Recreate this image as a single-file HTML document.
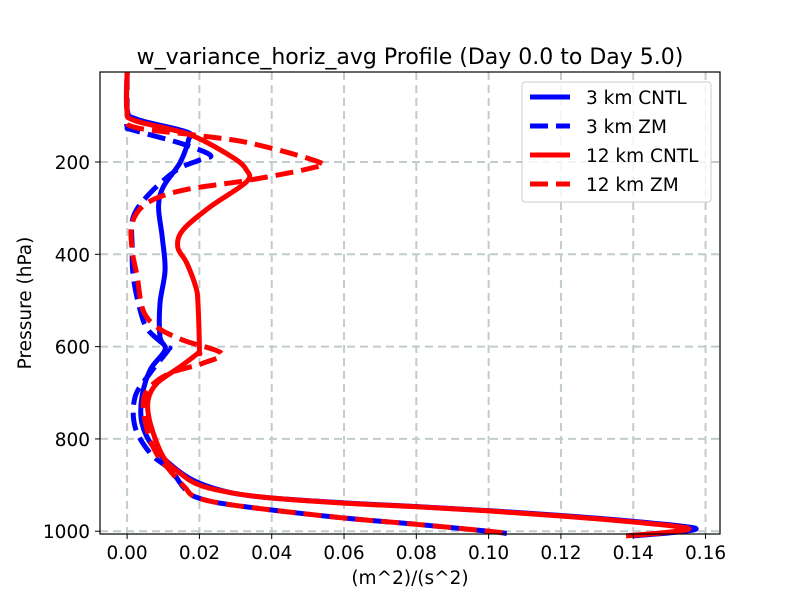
<!DOCTYPE html>
<html><head><meta charset="utf-8"><style>
body{margin:0;background:#fff;font-family:"DejaVu Sans",sans-serif}
</style></head><body>
<svg width="800" height="600" xmlns="http://www.w3.org/2000/svg" font-family="DejaVu Sans, sans-serif">
<rect width="800" height="600" fill="#fff"/>
<text x="410" y="64" font-size="22" text-anchor="middle">w_variance_horiz_avg Profile (Day 0.0 to Day 5.0)</text>
<g id="grid"></g>
<g id="series"></g>
<rect x="100" y="72" width="620" height="462" fill="none" stroke="#000" stroke-width="1.2"/>
<g id="ticks"></g>
<text x="410" y="584" font-size="18.5" text-anchor="middle">(m^2)/(s^2)</text>
<text transform="translate(31,303) rotate(-90)" font-size="18.5" text-anchor="middle">Pressure (hPa)</text>
<g>
<rect x="522" y="82" width="189" height="120" rx="3" fill="#fff" fill-opacity="0.8" stroke="#ccc"/>
<g id="legend"></g>
</g>
</svg>
<script>
const xTicks=[0,0.02,0.04,0.06,0.08,0.1,0.12,0.14,0.16];
const xTickLabels=["0.00","0.02","0.04","0.06","0.08","0.10","0.12","0.14","0.16"];
const yTicks=[200,400,600,800,1000];
const seriesNames=["3 km CNTL","3 km ZM","12 km CNTL","12 km ZM"];
const p3C=[5,87,108,135,152,202,254,297,362,434,506,579,607,650,709,766,817,867,896,917,928,939,947,956,967,980,993,1002,1010];
const v3C=[0,0,0.003,0.0165,0.017,0.0146,0.010,0.0087,0.0097,0.0105,0.0091,0.0091,0.0105,0.0064,0.0041,0.0041,0.0072,0.0138,0.020,0.029,0.040,0.061,0.081,0.101,0.122,0.142,0.157,0.152,0.140];
const p3Z=[5,95,124,131,160,185,196,217,267,319,384,449,521,564,601,607,657,709,774,831,867,904,926,943,969,985,1000,1005];
const v3Z=[0,0,0,0.0017,0.015,0.023,0.020,0.0138,0.0064,0.0017,0.0014,0.0017,0.0036,0.0058,0.011,0.0114,0.0064,0.0022,0.0022,0.0064,0.012,0.0155,0.019,0.029,0.057,0.080,0.100,0.105];
const p12C=[5,87,110,141,189,217,243,297,347,384,419,471,506,607,614,644,679,716,766,839,874,900,917,928,939,947,956,967,980,993,1002,1010];
const v12C=[0,0,0.002,0.0174,0.029,0.033,0.033,0.023,0.0155,0.014,0.0165,0.019,0.0196,0.020,0.0196,0.0146,0.0083,0.0058,0.0064,0.010,0.0146,0.020,0.029,0.040,0.060,0.080,0.100,0.120,0.140,0.155,0.150,0.138];
const p12Z=[5,95,124,141,159,200,213,239,261,289,332,391,449,521,558,586,614,636,657,687,720,780,830,870,905,926,943,969,985,1000,1005];
const v12Z=[0,0,0.0017,0.018,0.034,0.053,0.051,0.034,0.0155,0.0055,0.0014,0.0014,0.0028,0.0044,0.0083,0.0155,0.026,0.021,0.012,0.0064,0.0045,0.0055,0.008,0.012,0.016,0.019,0.029,0.057,0.080,0.100,0.105];
const X=v=>100+(v+0.0075)*(620/0.1715);
const Y=p=>72+(p-5)*(462/1001);
const NS="http://www.w3.org/2000/svg";
function mk(t,a,parent){const e=document.createElementNS(NS,t);for(const k in a)e.setAttribute(k,a[k]);parent.appendChild(e);return e;}
const grid=document.getElementById('grid'),ticks=document.getElementById('ticks');
xTicks.forEach((v,i)=>{
 const gl=mk('line',{x1:X(v),x2:X(v),y1:72,y2:534,stroke:'#c2cccc',"stroke-width":2,"stroke-dasharray":"8,5"},grid);
 
 
 const tk=mk('line',{x1:X(v),x2:X(v),y1:534,y2:539,stroke:'#000'},ticks);
 
 
 const t=mk('text',{x:X(v),y:559,"font-size":18.5,"text-anchor":"middle"},ticks);t.textContent=xTickLabels[i];
 
 
});
yTicks.forEach(p=>{
 const gl=mk('line',{x1:100,x2:720,y1:Y(p),y2:Y(p),stroke:'#c2cccc',"stroke-width":2,"stroke-dasharray":"8,5"},grid);
 
 
 const tk=mk('line',{x1:95,x2:100,y1:Y(p),y2:Y(p),stroke:'#000'},ticks);
 
 
 const t=mk('text',{x:90,y:Y(p)+7,"font-size":18.5,"text-anchor":"end"},ticks);t.textContent=p;
 
 
});
function path(ps,vs){
 const pts=ps.map((p,i)=>[X(vs[i]),Y(p)]);
 let d=`M${pts[0][0]},${pts[0][1]}`;
 for(let i=0;i<pts.length-1;i++){
  const p0=pts[Math.max(0,i-1)],p1=pts[i],p2=pts[i+1],p3=pts[Math.min(pts.length-1,i+2)];
  const c1=[p1[0]+(p2[0]-p0[0])/6,p1[1]+(p2[1]-p0[1])/6],c2=[p2[0]-(p3[0]-p1[0])/6,p2[1]-(p3[1]-p1[1])/6];
  d+=`C${c1[0]},${c1[1]} ${c2[0]},${c2[1]} ${p2[0]},${p2[1]}`;
 }
 return d;
}
const sg=document.getElementById('series');
const defs=[[p3C,v3C,'#0000ff',false,'series-3km-cntl'],[p3Z,v3Z,'#0000ff',true,'series-3km-zm'],[p12C,v12C,'#ff0000',false,'series-12km-cntl'],[p12Z,v12Z,'#ff0000',true,'series-12km-zm']];
defs.forEach(s=>{
 const a={d:path(s[0],s[1]),fill:'none',stroke:s[2],"stroke-width":5,"stroke-linejoin":"round"};
 if(s[3])a["stroke-dasharray"]="18,8";
 const e=mk('path',a,sg);
 
 
});
const lg=document.getElementById('legend');
defs.forEach((s,i)=>{
 const y=97+i*29;
 const a={x1:530,x2:570,y1:y,y2:y,stroke:s[2],"stroke-width":5};
 if(s[3])a["stroke-dasharray"]="18,8";
 const l=mk('line',a,lg);
 
 
 const t=mk('text',{x:586,y:y+7,"font-size":18.5},lg);t.textContent=seriesNames[i];
 
 
});
</script>
</body></html>
